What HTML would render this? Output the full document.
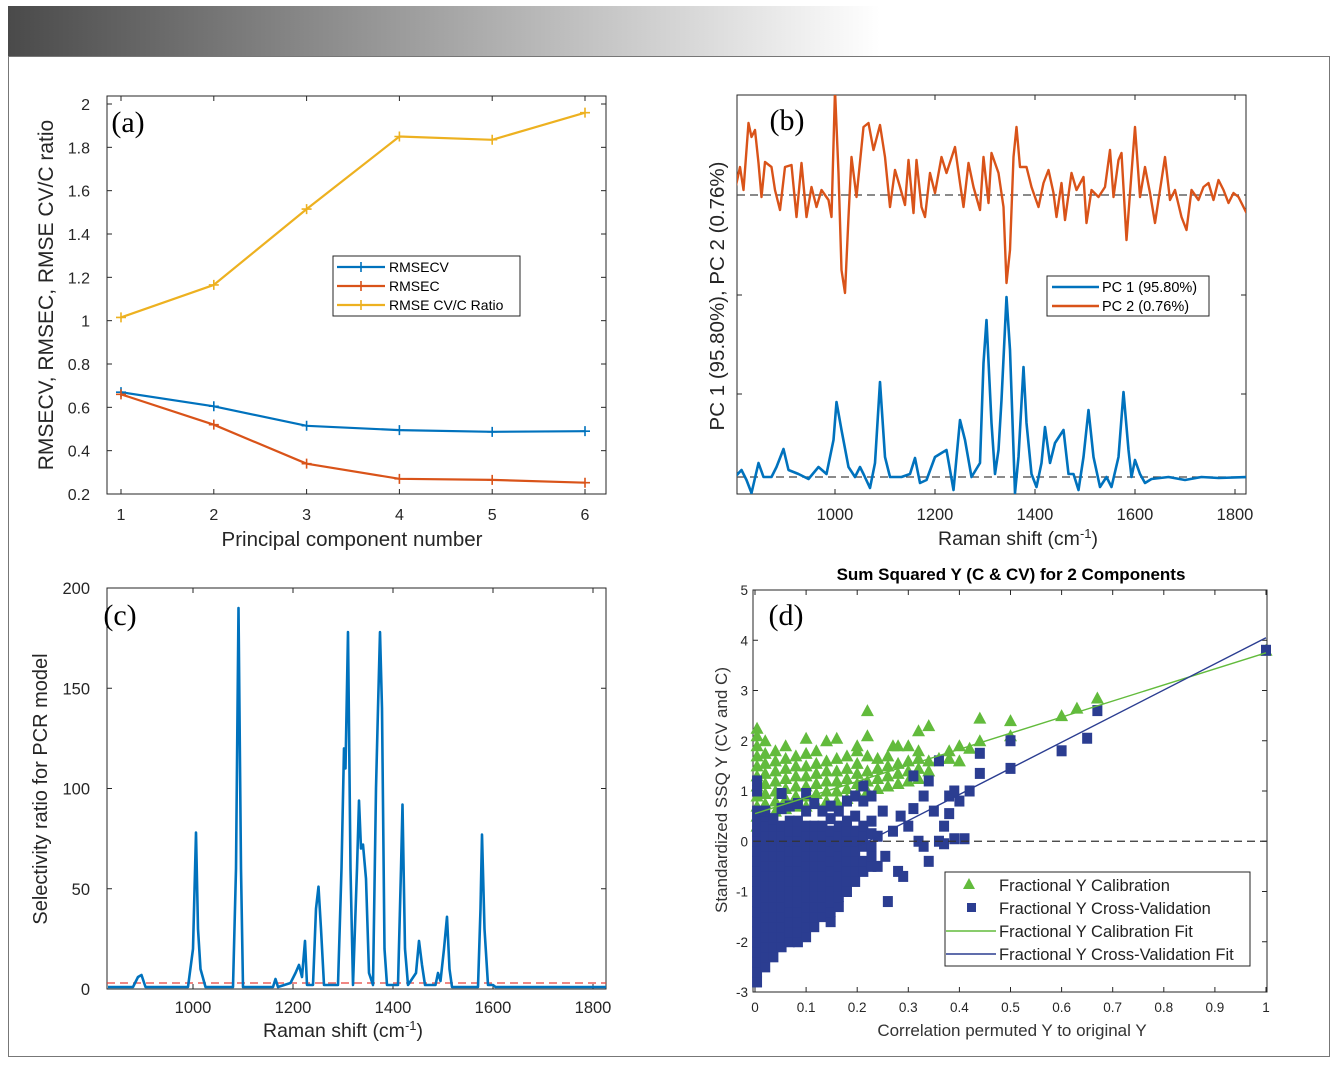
<!DOCTYPE html>
<html><head><meta charset="utf-8">
<style>
html,body{margin:0;padding:0;background:#fff;}
svg{display:block;font-family:"Liberation Sans",sans-serif;}
</style></head>
<body>
<svg id="fig" width="1338" height="1066" viewBox="0 0 1338 1066" xmlns="http://www.w3.org/2000/svg">
<defs><linearGradient id="hdr" x1="0" x2="1" y1="0" y2="0"><stop offset="0" stop-color="#4a4a4a"/><stop offset="1" stop-color="#ffffff"/></linearGradient></defs>
<rect x="8" y="6" width="872" height="50" fill="url(#hdr)"/>
<rect x="8.5" y="56.5" width="1321" height="1000" fill="none" stroke="#777" stroke-width="1"/>
</svg>
<script>
// ---------- Panel (a) data ----------
const aComponents=[1,2,3,4,5,6];
const aRMSECV=[0.67,0.605,0.515,0.495,0.487,0.49];
const aRMSEC=[0.66,0.52,0.34,0.27,0.265,0.252];
const aRatio=[1.015,1.165,1.515,1.85,1.835,1.96];
const aYTicks=[0.2,0.4,0.6,0.8,1,1.2,1.4,1.6,1.8,2];
// ---------- Panel (b) data ----------
const bPC2x=[800,810,817,827,833,840,847,853,860,873,880,890,900,913,923,933,943,953,963,973,987,993,1000,1007,1013,1020,1027,1033,1043,1057,1067,1077,1090,1100,1110,1120,1130,1140,1147,1157,1163,1173,1180,1190,1200,1213,1223,1240,1250,1257,1267,1277,1290,1297,1307,1313,1327,1337,1343,1350,1357,1363,1370,1383,1393,1407,1417,1427,1437,1443,1453,1460,1473,1483,1497,1503,1513,1527,1540,1550,1557,1567,1573,1583,1593,1600,1610,1620,1630,1640,1650,1660,1670,1680,1693,1703,1713,1727,1737,1747,1757,1767,1777,1787,1797,1807,1823];
const bPC2y=[2.87,3.10,2.87,3.54,3.40,3.47,3.14,2.80,3.15,3.10,2.87,2.67,3.10,3.12,2.60,3.14,2.60,2.90,2.70,2.87,2.77,2.60,3.87,3.04,2.07,1.84,2.60,3.20,2.80,3.50,3.54,3.27,3.52,3.20,2.70,3.07,2.90,2.72,3.17,2.64,3.17,2.70,2.60,3.04,2.84,3.20,3.04,3.30,2.94,2.70,3.14,2.90,2.67,3.20,2.74,3.24,3.04,2.70,1.94,2.27,3.20,3.50,3.10,3.10,2.90,2.70,2.94,3.07,2.84,2.60,2.94,2.57,3.04,2.87,3.00,2.54,2.87,2.80,2.90,3.27,2.80,3.17,3.24,2.37,3.04,3.50,2.80,3.10,2.84,2.54,2.87,3.20,2.77,2.87,2.60,2.47,2.87,2.77,2.90,2.94,2.77,2.97,2.87,2.74,2.84,2.80,2.64];
const bPC1x=[800,813,823,833,847,857,873,883,897,907,927,947,967,983,997,1003,1013,1027,1040,1050,1057,1070,1080,1090,1100,1110,1133,1150,1160,1170,1183,1200,1213,1223,1237,1250,1260,1273,1290,1297,1303,1313,1320,1327,1333,1343,1350,1360,1367,1377,1383,1393,1403,1413,1420,1430,1440,1457,1467,1477,1487,1497,1507,1517,1530,1543,1553,1567,1577,1587,1593,1600,1610,1620,1633,1667,1700,1733,1767,1823];
const bPC1y=[0,0.07,-0.03,-0.16,0.14,0,0,0.10,0.28,0.07,0.03,-0.02,0.10,0.03,0.37,0.75,0.47,0.10,0,0.10,0.03,-0.11,0.14,0.95,0.20,0,0,0.03,0.19,-0.06,-0.03,0.20,0.24,0.27,-0.13,0.57,0.37,0,0.14,1.14,1.57,0.54,0.03,0.27,0.77,1.80,1.27,-0.16,0.20,1.10,0.54,0.03,-0.10,0.14,0.50,0.14,0.34,0.47,0.03,0.03,-0.13,0.20,0.67,0.20,-0.10,0,-0.10,0.20,0.85,0.27,0,0.17,0.03,-0.06,-0.02,0,-0.03,0,-0.01,0];
const bBaselines=[0,2.82];
const bXTicks=[1000,1200,1400,1600,1800];
// ---------- Panel (c) data ----------
const cX=[830,880,890,897,905,990,1000,1006,1010,1015,1025,1080,1086,1091,1096,1100,1160,1165,1170,1195,1205,1212,1218,1224,1228,1240,1246,1251,1256,1262,1290,1297,1302,1305,1310,1315,1320,1328,1332,1336,1340,1346,1352,1360,1366,1370,1374,1378,1383,1388,1410,1416,1419,1424,1430,1446,1452,1458,1464,1485,1490,1495,1502,1508,1513,1518,1570,1575,1578,1583,1590,1600,1605,1826];
const cY=[1,1,6,7,1,1,20,78,30,10,1,1,60,190,60,1,1,5,1,3,8,12,6,24,2,2,40,51,30,2,2,60,120,110,178,60,2,60,94,70,72,55,8,2,100,140,178,140,20,2,2,60,92,20,2,8,24,12,2,2,8,4,20,36,10,1,1,40,77,30,2,2,1,1];
const cThreshold=[3];
const cYTicks=[0,50,100,150,200];
const cXTicks=[1000,1200,1400,1600,1800];
// ---------- Panel (d) data ----------
const dCalX=[0.004,0.004,0.004,0.004,0.004,0.004,0.004,0.004,0.004,0.004,0.004,0.02,0.02,0.02,0.02,0.02,0.02,0.02,0.02,0.04,0.04,0.04,0.04,0.04,0.04,0.04,0.06,0.06,0.06,0.06,0.06,0.06,0.06,0.08,0.08,0.08,0.08,0.08,0.08,0.1,0.1,0.1,0.1,0.1,0.1,0.1,0.12,0.12,0.12,0.12,0.12,0.12,0.14,0.14,0.14,0.14,0.14,0.14,0.16,0.16,0.16,0.16,0.16,0.16,0.18,0.18,0.18,0.18,0.18,0.2,0.2,0.2,0.2,0.2,0.22,0.22,0.22,0.22,0.22,0.22,0.24,0.24,0.24,0.24,0.26,0.26,0.26,0.26,0.28,0.28,0.28,0.28,0.3,0.3,0.3,0.3,0.32,0.32,0.32,0.32,0.34,0.34,0.34,0.36,0.38,0.38,0.4,0.4,0.42,0.44,0.44,0.5,0.5,0.6,0.63,0.67,1.0,0.2,0.27,0.32];
const dCalY=[0.3,0.5,0.7,0.9,1.1,1.3,1.5,1.7,1.9,2.1,2.25,0.55,0.75,0.95,1.15,1.35,1.55,1.75,2.0,0.6,0.8,1.0,1.2,1.4,1.6,1.8,0.65,0.85,1.05,1.25,1.45,1.65,1.9,0.7,0.9,1.1,1.3,1.5,1.7,0.7,0.9,1.1,1.3,1.5,1.75,2.05,0.75,0.95,1.15,1.35,1.55,1.8,0.8,1.0,1.2,1.4,1.6,2.0,0.8,1.0,1.2,1.4,1.65,2.05,0.85,1.05,1.25,1.45,1.7,0.95,1.15,1.35,1.55,1.8,1.0,1.2,1.4,1.7,2.1,2.6,1.05,1.25,1.45,1.65,1.1,1.3,1.5,1.7,1.15,1.35,1.55,1.9,1.2,1.4,1.6,1.9,1.25,1.45,1.65,1.8,1.4,1.6,2.3,1.65,1.8,1.65,1.6,1.9,1.85,2.0,2.45,2.1,2.4,2.5,2.65,2.85,3.8,1.9,1.9,2.2];
const dCVX=[0.004,0.004,0.004,0.004,0.004,0.004,0.004,0.004,0.004,0.004,0.004,0.004,0.004,0.004,0.004,0.004,0.004,0.004,0.004,0.004,
0.02,0.02,0.02,0.02,0.02,0.02,0.02,0.02,0.02,0.02,0.02,0.02,0.02,0.02,0.02,0.02,0.02,
0.036,0.036,0.036,0.036,0.036,0.036,0.036,0.036,0.036,0.036,0.036,0.036,0.036,0.036,0.036,
0.052,0.052,0.052,0.052,0.052,0.052,0.052,0.052,0.052,0.052,0.052,0.052,0.052,0.052,0.052,
0.068,0.068,0.068,0.068,0.068,0.068,0.068,0.068,0.068,0.068,0.068,0.068,0.068,0.068,
0.084,0.084,0.084,0.084,0.084,0.084,0.084,0.084,0.084,0.084,0.084,0.084,0.084,0.084,
0.1,0.1,0.1,0.1,0.1,0.1,0.1,0.1,0.1,0.1,0.1,0.1,0.1,0.1,
0.116,0.116,0.116,0.116,0.116,0.116,0.116,0.116,0.116,0.116,0.116,0.116,
0.132,0.132,0.132,0.132,0.132,0.132,0.132,0.132,0.132,0.132,0.132,
0.148,0.148,0.148,0.148,0.148,0.148,0.148,0.148,0.148,0.148,0.148,0.148,
0.164,0.164,0.164,0.164,0.164,0.164,0.164,0.164,0.164,0.164,
0.18,0.18,0.18,0.18,0.18,0.18,0.18,0.18,0.18,
0.196,0.196,0.196,0.196,0.196,0.196,0.196,0.196,
0.212,0.212,0.212,0.212,0.212,0.212,0.212,
0.228,0.228,0.228,0.228,0.228,0.228,
0.24,0.24,0.25,0.26,0.255,0.27,0.28,0.285,0.29,0.3,0.31,0.31,0.32,0.33,0.33,0.34,0.34,0.35,0.36,0.36,0.37,0.38,0.38,0.39,0.39,0.4,0.41,0.42,0.44,0.44,0.5,0.5,0.6,0.65,0.67,1.0,0.37];
const dCVY=[-2.8,-2.6,-2.4,-2.2,-2.0,-1.8,-1.6,-1.4,-1.2,-1.0,-0.8,-0.6,-0.4,-0.2,0,0.2,0.4,0.6,1.0,1.2,
-2.5,-2.3,-2.1,-1.9,-1.7,-1.5,-1.3,-1.1,-0.9,-0.7,-0.5,-0.3,-0.1,0.1,0.3,0.5,0.6,
-2.3,-2.1,-1.9,-1.7,-1.5,-1.3,-1.1,-0.9,-0.7,-0.5,-0.3,-0.1,0.1,0.3,0.45,
-2.1,-1.9,-1.7,-1.5,-1.3,-1.1,-0.9,-0.7,-0.5,-0.3,-0.1,0.1,0.3,0.65,0.95,
-2.0,-1.8,-1.6,-1.4,-1.2,-1.0,-0.8,-0.6,-0.4,-0.2,0,0.2,0.4,0.7,
-2.0,-1.8,-1.6,-1.4,-1.2,-1.0,-0.8,-0.6,-0.4,-0.2,0,0.2,0.4,0.75,
-1.9,-1.7,-1.5,-1.3,-1.1,-0.9,-0.7,-0.5,-0.3,-0.1,0.1,0.3,0.6,0.95,
-1.7,-1.5,-1.3,-1.1,-0.9,-0.7,-0.5,-0.3,-0.1,0.1,0.3,0.75,
-1.5,-1.3,-1.1,-0.9,-0.7,-0.5,-0.3,-0.1,0.1,0.3,0.6,
-1.6,-1.4,-1.2,-1.0,-0.8,-0.6,-0.4,-0.2,0,0.2,0.45,0.7,
-1.3,-1.1,-0.9,-0.7,-0.5,-0.3,-0.1,0.1,0.3,0.6,
-1.0,-0.8,-0.6,-0.4,-0.2,0,0.2,0.4,0.8,
-0.8,-0.6,-0.4,-0.2,0,0.2,0.5,0.9,
-0.6,-0.4,-0.1,0.1,0.3,0.8,1.1,
-0.5,-0.3,-0.1,0.15,0.4,0.9,
-0.5,0.1,0.6,-1.2,-0.3,0.2,-0.6,0.5,-0.7,0.3,1.3,0.65,0.0,-0.1,0.9,-0.4,1.2,0.6,0.0,1.6,0.3,0.9,0.55,1.0,0.05,0.8,0.05,1.0,1.75,1.35,2.0,1.45,1.8,2.05,2.6,3.8,-0.05];
const dCalFit=[0.55,3.75];
const dCVFit=[-1.15,4.05];
const dXTicks=[0,0.1,0.2,0.3,0.4,0.5,0.6,0.7,0.8,0.9,1];
const dXTickLabels=["0","0.1","0.2","0.3","0.4","0.5","0.6","0.7","0.8","0.9","1"];
const dYTicks=[-3,-2,-1,0,1,2,3,4,5];

const NS="http://www.w3.org/2000/svg";
const svg=document.getElementById('fig');
function mk(tag,attrs,name,parent){
  const el=document.createElementNS(NS,tag);
  for(const k in attrs) el.setAttribute(k,attrs[k]);
  
  
  (parent||svg).appendChild(el);
  return el;
}
function txt(x,y,s,name,opt){
  opt=opt||{};
  const a={x:x,y:y,'font-size':opt.size||16,fill:opt.fill||'#262626','text-anchor':opt.anchor||'middle'};
  if(opt.family)a['font-family']=opt.family;
  if(opt.weight)a['font-weight']=opt.weight;
  if(opt.rotate!==undefined)a.transform='rotate('+opt.rotate+' '+x+' '+y+')';
  const el=mk('text',a,name);
  el.textContent=s;
  return el;
}
function scale(d0,d1,r0,r1){return v=>r0+(v-d0)/(d1-d0)*(r1-r0);}
function poly(xs,ys,sx,sy,color,w,name,clip){
  const pts=xs.map((v,i)=>sx(v).toFixed(1)+','+sy(ys[i]).toFixed(1)).join(' ');
  const a={points:pts,fill:'none',stroke:color,'stroke-width':w,'stroke-linejoin':'round'};
  if(clip)a['clip-path']='url(#'+clip+')';
  return mk('polyline',a,name);
}
function box(x0,y0,x1,y1,name,clipId){
  mk('rect',{x:x0,y:y0,width:x1-x0,height:y1-y0,fill:'#fff',stroke:'#262626','stroke-width':1},name);
  const cp=mk('clipPath',{id:clipId},clipId);
  mk('rect',{x:x0,y:y0,width:x1-x0,height:y1-y0},clipId+'-rect',cp);
}
function tick(x1,y1,x2,y2,name){mk('line',{x1:x1,y1:y1,x2:x2,y2:y2,stroke:'#262626','stroke-width':1},name);}
function supTitle(x,y,name,size){
  const t=txt(x,y,'Raman shift (cm',name,{size:size});
  const sp=document.createElementNS(NS,'tspan');
  
  
  sp.setAttribute('baseline-shift','super');sp.setAttribute('font-size','13');sp.textContent='-1';t.appendChild(sp);
  const sp2=document.createElementNS(NS,'tspan');
  
  
  sp2.textContent=')';t.appendChild(sp2);
}

const BLUE='#0072BD',RED='#D95319',YEL='#EDB120';

// ===== Panel (a) =====
(function(){
  const X0=107,X1=606,Y0=96,Y1=494;
  const sx=scale(1,6,121,585), sy=scale(0.2,2,494,104);
  box(X0,Y0,X1,Y1,'panel-a-plot-area','clipA');
  aComponents.forEach(c=>{
    tick(sx(c),Y1,sx(c),Y1-5,'a-x-tick');
    tick(sx(c),Y0,sx(c),Y0+5,'a-x-tick-top');
    txt(sx(c),520,String(c),'a-x-tick-label',{size:16});
  });
  aYTicks.forEach(v=>{
    tick(X0,sy(v),X0+5,sy(v),'a-y-tick');
    tick(X1,sy(v),X1-5,sy(v),'a-y-tick-right');
    txt(90,sy(v)+6,String(v),'a-y-tick-label',{size:16,anchor:'end'});
  });
  const series=[[aRMSECV,BLUE,'rmsecv'],[aRMSEC,RED,'rmsec'],[aRatio,YEL,'rmse-ratio']];
  series.forEach(s=>{
    poly(aComponents,s[0],sx,sy,s[1],2.2,'a-line-'+s[2]);
    s[0].forEach((v,i)=>{
      const cx=sx(aComponents[i]),cy=sy(v);
      mk('path',{d:'M'+(cx-5)+' '+cy+'h10M'+cx+' '+(cy-5)+'v10',stroke:s[1],'stroke-width':1.6},'a-marker-'+s[2]);
    });
  });
  txt(128,132,'(a)','panel-a-label',{size:30,family:'"Liberation Serif",serif',fill:'#000'});
  txt(352,546,'Principal component number','a-x-axis-title',{size:20.5});
  txt(53,295,'RMSECV, RMSEC, RMSE CV/C ratio','a-y-axis-title',{size:21,rotate:-90});
  mk('rect',{x:333,y:256,width:187,height:60,fill:'#fff',stroke:'#262626','stroke-width':1},'a-legend');
  const leg=[['RMSECV',BLUE],['RMSEC',RED],['RMSE CV/C Ratio',YEL]];
  leg.forEach((l,i)=>{
    const y=267+i*19;
    mk('line',{x1:337,y1:y,x2:385,y2:y,stroke:l[1],'stroke-width':2.2},'a-legend-line');
    mk('path',{d:'M356 '+y+'h10M361 '+(y-5)+'v10',stroke:l[1],'stroke-width':1.6},'a-legend-marker');
    txt(389,y+5,l[0],'a-legend-entry',{size:14,anchor:'start',fill:'#000'});
  });
})();

// ===== Panel (b) =====
(function(){
  const X0=737,X1=1246,Y0=95,Y1=494;
  const sx=scale(804,1822,737,1246), sy=scale(-0.17,3.82,494,95);
  box(X0,Y0,X1,Y1,'panel-b-plot-area','clipB');
  bXTicks.forEach(v=>{
    tick(sx(v),Y1,sx(v),Y1-5,'b-x-tick');
    tick(sx(v),Y0,sx(v),Y0+5,'b-x-tick-top');
    txt(sx(v),520,String(v),'b-x-tick-label',{size:16.5});
  });
  [295,394].forEach(py=>{tick(X1,py,X1-5,py,'b-y-tick-right');tick(X0,py,X0+5,py,'b-y-tick');});
  bBaselines.forEach(v=>{
    mk('line',{x1:X0,y1:sy(v),x2:X1,y2:sy(v),stroke:'#444','stroke-width':1.3,'stroke-dasharray':'8,5'},'b-zero-line');
  });
  poly(bPC2x,bPC2y,sx,sy,RED,2.4,'b-line-pc2','clipB');
  poly(bPC1x,bPC1y,sx,sy,BLUE,2.6,'b-line-pc1','clipB');
  txt(787,130,'(b)','panel-b-label',{size:30,family:'"Liberation Serif",serif',fill:'#000'});
  supTitle(1018,545,'b-x-axis-title',19.5);
  txt(724,296,'PC 1 (95.80%), PC 2 (0.76%)','b-y-axis-title',{size:20.5,rotate:-90});
  mk('rect',{x:1047,y:276,width:162,height:40,fill:'#fff',stroke:'#262626','stroke-width':1},'b-legend');
  [['PC 1 (95.80%)',BLUE],['PC 2 (0.76%)',RED]].forEach((l,i)=>{
    const y=287+i*19;
    mk('line',{x1:1052,y1:y,x2:1099,y2:y,stroke:l[1],'stroke-width':2.6},'b-legend-line');
    txt(1102,y+5,l[0],'b-legend-entry',{size:14.5,anchor:'start',fill:'#000'});
  });
})();

// ===== Panel (c) =====
(function(){
  const X0=107,X1=606,Y0=588,Y1=989;
  const sx=scale(828,1826,107,606), sy=scale(0,200,989,588);
  box(X0,Y0,X1,Y1,'panel-c-plot-area','clipC');
  cXTicks.forEach(v=>{
    tick(sx(v),Y1,sx(v),Y1-5,'c-x-tick');
    tick(sx(v),Y0,sx(v),Y0+5,'c-x-tick-top');
    txt(sx(v),1013,String(v),'c-x-tick-label',{size:16.5});
  });
  cYTicks.forEach(v=>{
    tick(X0,sy(v),X0+5,sy(v),'c-y-tick');
    tick(X1,sy(v),X1-5,sy(v),'c-y-tick-right');
    txt(90,sy(v)+6,String(v),'c-y-tick-label',{size:16.5,anchor:'end'});
  });
  cThreshold.forEach(v=>{
    mk('line',{x1:X0,y1:sy(v),x2:X1,y2:sy(v),stroke:'#e8403a','stroke-width':1.3,'stroke-dasharray':'8,5'},'c-threshold-line');
  });
  poly(cX,cY,sx,sy,BLUE,2.6,'c-line-selectivity','clipC');
  txt(120,625,'(c)','panel-c-label',{size:30,family:'"Liberation Serif",serif',fill:'#000'});
  supTitle(343,1037,'c-x-axis-title',19.5);
  txt(47,789,'Selectivity ratio for PCR model','c-y-axis-title',{size:20,rotate:-90});
})();

// ===== Panel (d) =====
(function(){
  const X0=753,X1=1267,Y0=590,Y1=992;
  const sx=scale(0,1,755,1266), sy=scale(-3,5,992,590);
  box(X0,Y0,X1,Y1,'panel-d-plot-area','clipD');
  dXTicks.forEach((v,i)=>{
    tick(sx(v),Y1,sx(v),Y1-5,'d-x-tick');
    tick(sx(v),Y0,sx(v),Y0+5,'d-x-tick-top');
    txt(sx(v),1012,dXTickLabels[i],'d-x-tick-label',{size:13.5});
  });
  dYTicks.forEach(v=>{
    tick(X0,sy(v),X0+5,sy(v),'d-y-tick');
    tick(X1,sy(v),X1-5,sy(v),'d-y-tick-right');
    txt(748,sy(v)+5,String(v),'d-y-tick-label',{size:13.5,anchor:'end'});
  });
  const GREEN='#62bb3c',NAVY='#2b3d91';
  dCalX.forEach((x,i)=>{
    const cx=sx(x),cy=sy(dCalY[i]);
    mk('polygon',{points:(cx-6.5)+','+(cy+5.5)+' '+(cx+6.5)+','+(cy+5.5)+' '+cx+','+(cy-6.5),fill:GREEN},'d-cal-point');
  });
  dCVX.forEach((x,i)=>{
    const cx=sx(x),cy=sy(dCVY[i]);
    mk('rect',{x:cx-5,y:cy-5.5,width:10,height:11,fill:NAVY},'d-cv-point');
  });
  mk('line',{x1:X0,y1:sy(0),x2:X1,y2:sy(0),stroke:'#333','stroke-width':1.3,'stroke-dasharray':'8,5'},'d-zero-line');
  mk('line',{x1:sx(0),y1:sy(dCalFit[0]),x2:sx(1),y2:sy(dCalFit[1]),stroke:GREEN,'stroke-width':1.4},'d-cal-fit-line');
  mk('line',{x1:sx(0.2),y1:sy(dCVFit[0]+0.2*(dCVFit[1]-dCVFit[0])),x2:sx(1),y2:sy(dCVFit[1]),stroke:NAVY,'stroke-width':1.4},'d-cv-fit-line');
  txt(786,625,'(d)','panel-d-label',{size:30,family:'"Liberation Serif",serif',fill:'#000'});
  txt(1011,580,'Sum Squared Y (C & CV) for 2 Components','d-title',{size:17,weight:'bold',fill:'#000'});
  txt(1012,1036,'Correlation permuted Y to original Y','d-x-axis-title',{size:17,fill:'#333'});
  txt(727,790,'Standardized SSQ Y (CV and C)','d-y-axis-title',{size:17,rotate:-90,fill:'#333'});
  mk('rect',{x:945,y:872,width:305,height:94,fill:'#fff',stroke:'#262626','stroke-width':1},'d-legend');
  const ly=[885,908,931,954];
  const lbl=['Fractional Y Calibration','Fractional Y Cross-Validation','Fractional Y Calibration Fit','Fractional Y Cross-Validation Fit'];
  mk('polygon',{points:'963,889 975,889 969,878',fill:GREEN},'d-legend-cal-marker');
  mk('rect',{x:967,y:903,width:9,height:9,fill:NAVY},'d-legend-cv-marker');
  mk('line',{x1:946,y1:931,x2:996,y2:931,stroke:GREEN,'stroke-width':1.4},'d-legend-cal-fit');
  mk('line',{x1:946,y1:954,x2:996,y2:954,stroke:NAVY,'stroke-width':1.4},'d-legend-cv-fit');
  lbl.forEach((s,i)=>txt(999,ly[i]+6,s,'d-legend-entry',{size:16.5,anchor:'start',fill:'#222'}));
})();
</script>
</body></html>
